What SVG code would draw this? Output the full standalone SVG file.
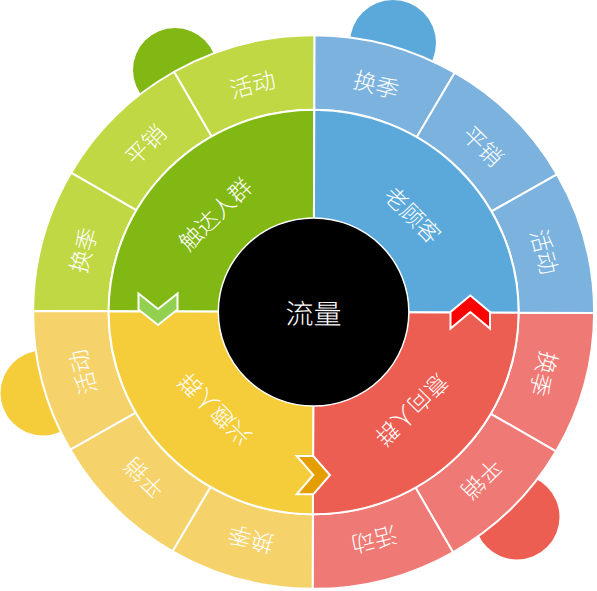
<svg xmlns="http://www.w3.org/2000/svg" width="597" height="591" viewBox="0 0 597 591">
<style>
.t{font-family:"Noto Sans CJK SC","Noto Sans CJK JP",sans-serif;fill:#fff;font-size:23px;font-weight:300;text-anchor:middle;dominant-baseline:central}
.c{font-size:28px}
.s{stroke:#fff;stroke-width:2}
.ch{stroke:#fff;stroke-width:2;stroke-linejoin:miter}
.gD{fill:#82B814}.gL{fill:#C0D844}
.bD{fill:#5BA9DB}.bL{fill:#7BB2DE}
.rD{fill:#EC5D52}.rL{fill:#EF7A75}
.yD{fill:#F5CC3A}.yL{fill:#F5D36A}
</style>
<g id="tabs">
<circle id="tab-green" class="gD" cx="175" cy="70" r="42"/>
<circle id="tab-blue" class="bD" cx="393" cy="43" r="43"/>
<circle id="tab-yellow" class="yD" cx="43" cy="393" r="42.5"/>
<circle id="tab-red" class="rD" cx="517" cy="517" r="42.5"/>
</g>
<g id="wheel" transform="translate(313.6,312) rotate(0.2) scale(1,0.987)">
<g id="outer-green">
<g id="g-huanji"><path class="gL s" d="M-280.5,0 A280.5,280.5 0 0 1 -242.92,-140.25 L-177.54,-102.5 A205,205 0 0 0 -205,0 Z"/><text class="t" transform="translate(-231.82,-62.12) rotate(285)">换季</text></g>
<g id="g-pingxiao"><path class="gL s" d="M-242.92,-140.25 A280.5,280.5 0 0 1 -140.25,-242.92 L-102.5,-177.54 A205,205 0 0 0 -177.54,-102.5 Z"/><text class="t" transform="translate(-169.71,-169.71) rotate(315)">平销</text></g>
<g id="g-huodong"><path class="gL s" d="M-140.25,-242.92 A280.5,280.5 0 0 1 0,-280.5 L0,-205 A205,205 0 0 0 -102.5,-177.54 Z"/><text class="t" transform="translate(-62.12,-231.82) rotate(345)">活动</text></g>
</g>
<g id="outer-blue">
<g id="b-huanji"><path class="bL s" d="M0,-280.5 A280.5,280.5 0 0 1 140.25,-242.92 L102.5,-177.54 A205,205 0 0 0 0,-205 Z"/><text class="t" transform="translate(62.12,-231.82) rotate(15)">换季</text></g>
<g id="b-pingxiao"><path class="bL s" d="M140.25,-242.92 A280.5,280.5 0 0 1 242.92,-140.25 L177.54,-102.5 A205,205 0 0 0 102.5,-177.54 Z"/><text class="t" transform="translate(169.71,-169.71) rotate(45)">平销</text></g>
<g id="b-huodong"><path class="bL s" d="M242.92,-140.25 A280.5,280.5 0 0 1 280.5,0 L205,0 A205,205 0 0 0 177.54,-102.5 Z"/><text class="t" transform="translate(231.82,-62.12) rotate(75)">活动</text></g>
</g>
<g id="outer-red">
<g id="r-huanji"><path class="rL s" d="M280.5,0 A280.5,280.5 0 0 1 242.92,140.25 L177.54,102.5 A205,205 0 0 0 205,0 Z"/><text class="t" transform="translate(231.82,62.12) rotate(105)">换季</text></g>
<g id="r-pingxiao"><path class="rL s" d="M242.92,140.25 A280.5,280.5 0 0 1 140.25,242.92 L102.5,177.54 A205,205 0 0 0 177.54,102.5 Z"/><text class="t" transform="translate(169.71,169.71) rotate(135)">平销</text></g>
<g id="r-huodong"><path class="rL s" d="M140.25,242.92 A280.5,280.5 0 0 1 0,280.5 L0,205 A205,205 0 0 0 102.5,177.54 Z"/><text class="t" transform="translate(62.12,231.82) rotate(165)">活动</text></g>
</g>
<g id="outer-yellow">
<g id="y-huanji"><path class="yL s" d="M0,280.5 A280.5,280.5 0 0 1 -140.25,242.92 L-102.5,177.54 A205,205 0 0 0 0,205 Z"/><text class="t" transform="translate(-62.12,231.82) rotate(195)">换季</text></g>
<g id="y-pingxiao"><path class="yL s" d="M-140.25,242.92 A280.5,280.5 0 0 1 -242.92,140.25 L-177.54,102.5 A205,205 0 0 0 -102.5,177.54 Z"/><text class="t" transform="translate(-169.71,169.71) rotate(225)">平销</text></g>
<g id="y-huodong"><path class="yL s" d="M-242.92,140.25 A280.5,280.5 0 0 1 -280.5,0 L-205,0 A205,205 0 0 0 -177.54,102.5 Z"/><text class="t" transform="translate(-231.82,62.12) rotate(255)">活动</text></g>
</g>
<g id="mid-green"><path class="gD s" d="M0,0 L-205,0 A205,205 0 0 1 0,-205 Z"/><text class="t" transform="translate(-99.7,-99.7) rotate(315)">触达人群</text></g>
<g id="mid-blue"><path class="bD s" d="M0,0 L0,-205 A205,205 0 0 1 205,0 Z"/><text class="t" transform="translate(99.7,-99.7) rotate(45)">老顾客</text></g>
<g id="mid-red"><path class="rD s" d="M0,0 L205,0 A205,205 0 0 1 0,205 Z"/><text class="t" transform="translate(99.7,99.7) rotate(135)">意向人群</text></g>
<g id="mid-yellow"><path class="yD s" d="M0,0 L0,205 A205,205 0 0 1 -205,0 Z"/><text class="t" transform="translate(-99.7,99.7) rotate(225)">兴趣人群</text></g>
<g id="center"><circle r="95.3" fill="#000" stroke="#fff" stroke-width="1.5"/><text class="t c" x="0" y="0">流量</text></g>
</g>
<g id="connectors">
<polygon id="chevron-green" class="ch" fill="#92D050" points="138.5,293.5 158,309 177.5,293.5 177.5,309.5 158,325 138.5,309.5"/>
<polygon id="chevron-red" class="ch" fill="#FF0000" points="450.5,328.5 450.5,312 470.3,295.5 490,312 490,328.5 470.3,312"/>
<polygon id="chevron-orange" class="ch" fill="#E59E00" points="296.7,456 313.3,456 330,475 313.3,494.3 296.7,494.3 313.3,475"/>
</g>
</svg>
